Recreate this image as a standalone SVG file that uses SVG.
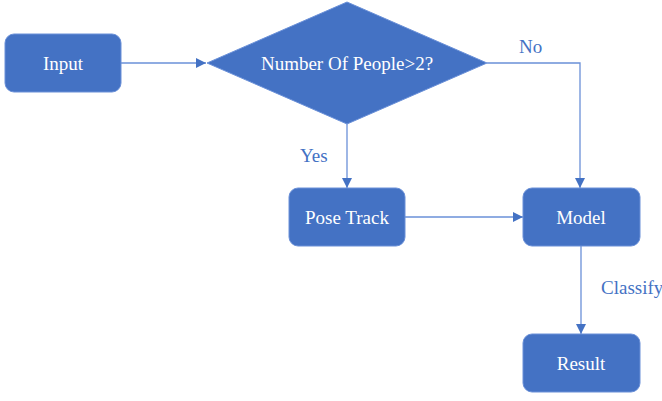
<svg xmlns="http://www.w3.org/2000/svg" width="662" height="401" viewBox="0 0 662 401">
<style>
.node{fill:#4472C4;stroke:#6A90D8;stroke-width:1}
.t{font-family:'Liberation Serif','Times New Roman','DejaVu Serif',serif;font-size:19px;fill:#fff;text-anchor:middle;dominant-baseline:central}
.lbl{font-family:'Liberation Serif','Times New Roman','DejaVu Serif',serif;font-size:19px;fill:#4472C4}
.c{fill:none;stroke:#6A90D8;stroke-width:1.3}
</style>
<defs>
<marker id="ah" viewBox="0 0 10 10" refX="10" refY="5" markerWidth="10" markerHeight="10" markerUnits="userSpaceOnUse" orient="auto">
<path d="M0,0 L10,5 L0,10 Z" fill="#4472C4"/>
</marker>
</defs>
<g id="connectors">
<path class="c" d="M121,63 H206" marker-end="url(#ah)"/>
<path class="c" d="M487,63 H580 V188" marker-end="url(#ah)"/>
<path class="c" d="M347,124 V188" marker-end="url(#ah)"/>
<path class="c" d="M405,217 H523" marker-end="url(#ah)"/>
<path class="c" d="M581,246 V334" marker-end="url(#ah)"/>
<text class="lbl" x="519" y="53">No</text>
<text class="lbl" x="300" y="162">Yes</text>
<text class="lbl" x="601" y="294">Classify</text>
</g>
<g id="input"><rect class="node" x="5" y="34" width="116" height="58" rx="9"/><text class="t" x="63" y="63">Input</text></g>
<g id="decision"><polygon class="node" points="207,63 347,2 487,63 347,124"/><text class="t" x="347" y="63">Number Of People&gt;2?</text></g>
<g id="posetrack"><rect class="node" x="289" y="188" width="116" height="58" rx="9"/><text class="t" x="347" y="217">Pose Track</text></g>
<g id="model"><rect class="node" x="523" y="188" width="117" height="58" rx="9"/><text class="t" x="581" y="217">Model</text></g>
<g id="result"><rect class="node" x="523" y="334" width="117" height="58" rx="9"/><text class="t" x="581" y="363">Result</text></g>
</svg>
